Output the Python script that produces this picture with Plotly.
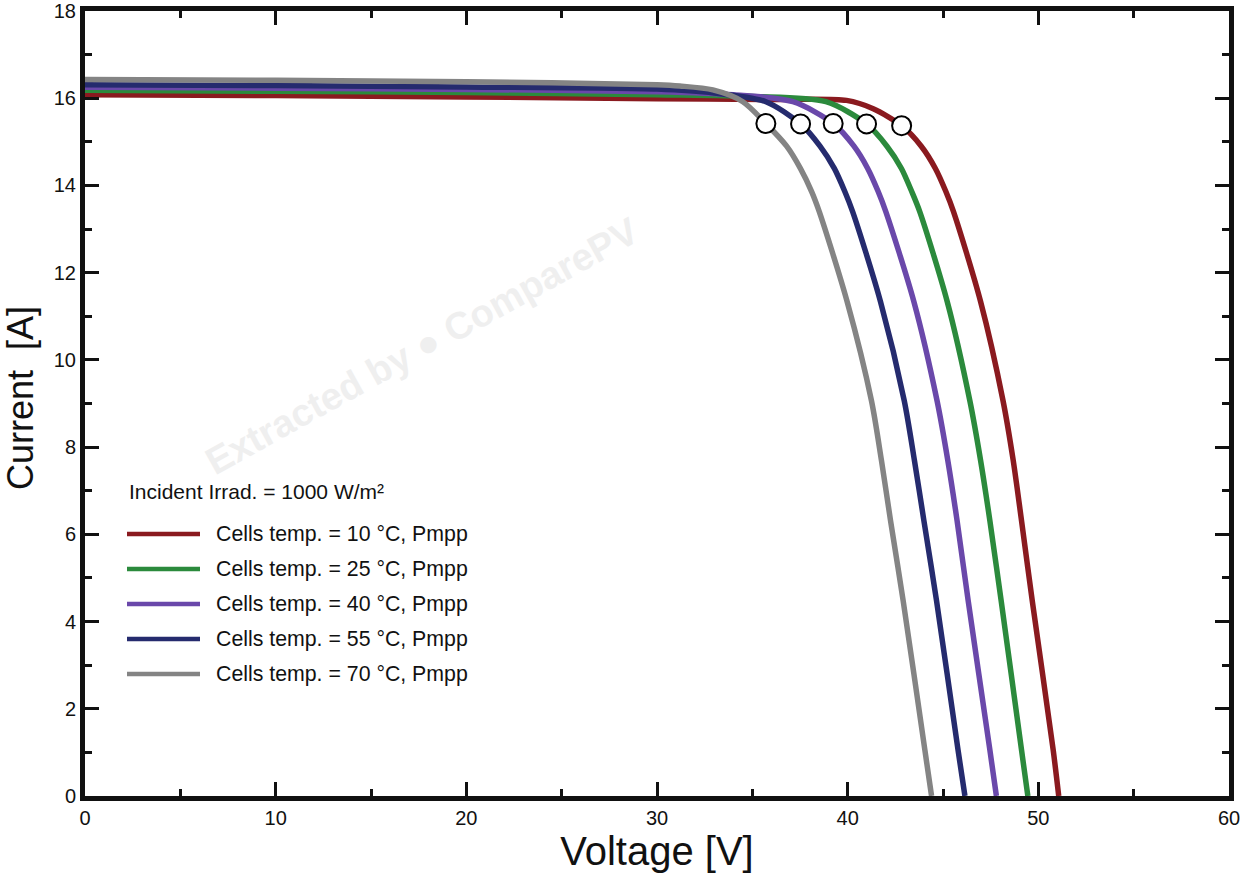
import plotly.graph_objects as go

# ---------------- data ----------------
v_10 = [0, 10, 20, 30, 36, 39.94, 41.34, 42.83, 43.86, 44.60, 45.15, 45.55, 46.97, 48.15, 48.68, 49.12, 49.68, 50.78, 51.07]
i_10 = [16.08, 16.06, 16.03, 15.99, 15.97, 15.95, 15.76, 15.37, 14.90, 14.39, 13.86, 13.40, 11.34, 9.06, 7.70, 6.31, 4.48, 1.05, 0]

v_25 = [0, 10, 20, 30, 35, 38.86, 40.99, 42.06, 42.82, 43.36, 43.78, 45.22, 46.41, 46.97, 47.46, 48.05, 49.12, 49.45]
i_25 = [16.18, 16.16, 16.13, 16.08, 16.04, 15.92, 15.41, 14.90, 14.39, 13.86, 13.40, 11.34, 9.06, 7.70, 6.31, 4.48, 1.05, 0]

v_40 = [0, 10, 20, 30, 34, 37.13, 39.24, 40.33, 41.05, 41.60, 42.00, 43.47, 44.69, 45.25, 45.74, 46.32, 47.46, 47.80]
i_40 = [16.25, 16.23, 16.20, 16.15, 16.08, 15.92, 15.42, 14.90, 14.39, 13.86, 13.40, 11.34, 9.06, 7.70, 6.31, 4.48, 1.05, 0]

v_55 = [0, 10, 20, 30, 33, 35.71, 37.53, 38.55, 39.30, 39.85, 40.26, 41.72, 42.97, 43.50, 44.00, 44.66, 45.79, 46.15]
i_55 = [16.31, 16.29, 16.26, 16.21, 16.12, 15.92, 15.41, 14.90, 14.39, 13.86, 13.40, 11.34, 9.06, 7.70, 6.31, 4.48, 1.05, 0]

v_70 = [0, 10, 20, 30, 31.2, 32.93, 34.50, 35.71, 36.80, 37.52, 38.11, 38.51, 39.97, 41.25, 41.77, 42.25, 42.91, 44.05, 44.40]
i_70 = [16.43, 16.41, 16.38, 16.31, 16.28, 16.19, 15.92, 15.42, 14.90, 14.39, 13.86, 13.40, 11.34, 9.06, 7.70, 6.31, 4.48, 1.05, 0]

mpp_v = [42.83, 40.99, 39.24, 37.53, 35.71]
mpp_i = [15.37, 15.41, 15.42, 15.41, 15.42]

series_labels = ["Cells temp. = 10 °C, Pmpp", "Cells temp. = 25 °C, Pmpp",
                 "Cells temp. = 40 °C, Pmpp", "Cells temp. = 55 °C, Pmpp",
                 "Cells temp. = 70 °C, Pmpp"]
legend_title = "Incident Irrad. = 1000 W/m²"
x_title = "Voltage [V]"
y_title = "Current  [A]"
x_ticks = [0, 10, 20, 30, 40, 50, 60]
y_ticks = [0, 2, 4, 6, 8, 10, 12, 14, 16, 18]

colors = ["#8a1a1f", "#2b8a3c", "#6a48aa", "#252b6e", "#848484"]
volts = [v_10, v_25, v_40, v_55, v_70]
amps = [i_10, i_25, i_40, i_55, i_70]

FONT = "Arial, Liberation Sans, sans-serif"

fig = go.Figure()
for v, i, c, name in zip(volts, amps, colors, series_labels):
    fig.add_trace(go.Scatter(x=v, y=i, mode="lines", name=name,
                             line=dict(color=c, width=5.5, shape="spline", smoothing=0.8),
                             showlegend=False))

fig.add_trace(go.Scatter(x=mpp_v, y=mpp_i, mode="markers", showlegend=False,
                         marker=dict(size=19, color="white",
                                     line=dict(color="black", width=2))))

# ---------- manual legend (paper coordinates) ----------
L, R, T, B = 85, 13, 11, 79
W, H = 1242, 875
pw, ph = W - L - R, H - T - B

def px(x):
    return (x - L) / pw

def py(y):
    return (H - B - y) / ph

shapes = []
annotations = []
annotations.append(dict(x=px(127), y=py(491), xref="paper", yref="paper",
                        text=legend_title, showarrow=False, xanchor="left", yanchor="middle",
                        font=dict(family=FONT, size=21, color="#111")))
for k, (c, name) in enumerate(zip(colors, series_labels)):
    yy = 534 + 35 * k
    shapes.append(dict(type="line", xref="paper", yref="paper",
                       x0=px(127), x1=px(200), y0=py(yy), y1=py(yy),
                       line=dict(color=c, width=4.5)))
    annotations.append(dict(x=px(214), y=py(yy), xref="paper", yref="paper",
                            text=name, showarrow=False, xanchor="left", yanchor="middle",
                            font=dict(family=FONT, size=21.3, color="#111")))

# y-axis title as rotated annotation (placed in the left margin)
annotations.append(dict(x=px(20), y=py(398), xref="paper", yref="paper",
                        text=y_title, showarrow=False, textangle=-90,
                        xanchor="center", yanchor="middle",
                        font=dict(family=FONT, size=36, color="#111")))

# faint watermark
annotations.append(dict(x=px(422), y=py(346), xref="paper", yref="paper",
                        text="<b>Extracted by ● ComparePV</b>", showarrow=False, textangle=-29,
                        font=dict(family="Liberation Sans, Arial", size=38, color="#efefef"),
                        xanchor="center", yanchor="middle"))

axis_common = dict(showline=True, linecolor="#111", linewidth=5, mirror="allticks",
                   ticks="inside", tickcolor="#111", tickwidth=2.5, ticklen=14,
                   showgrid=False, zeroline=False, automargin=False,
                   ticklabeloverflow="allow",
                   tickfont=dict(family=FONT, size=20, color="#111"))

fig.update_layout(
    template="none",
    width=W, height=H,
    margin=dict(l=L, r=R, t=T, b=B),
    plot_bgcolor="white", paper_bgcolor="white",
    shapes=shapes, annotations=annotations,
    xaxis=dict(range=[0, 60], tickvals=x_ticks,
               minor=dict(dtick=5, ticks="inside", ticklen=7, tickwidth=2.5, tickcolor="#111"),
               title=dict(text=x_title, font=dict(family=FONT, size=40, color="#111"), standoff=8),
               **axis_common),
    yaxis=dict(range=[0, 18], tickvals=y_ticks,
               minor=dict(dtick=1, ticks="inside", ticklen=7, tickwidth=2.5, tickcolor="#111"),
               **axis_common),
)

fig.write_html("out.html", config={"displayModeBar": False},
               post_script="document.body.style.margin='0';")
